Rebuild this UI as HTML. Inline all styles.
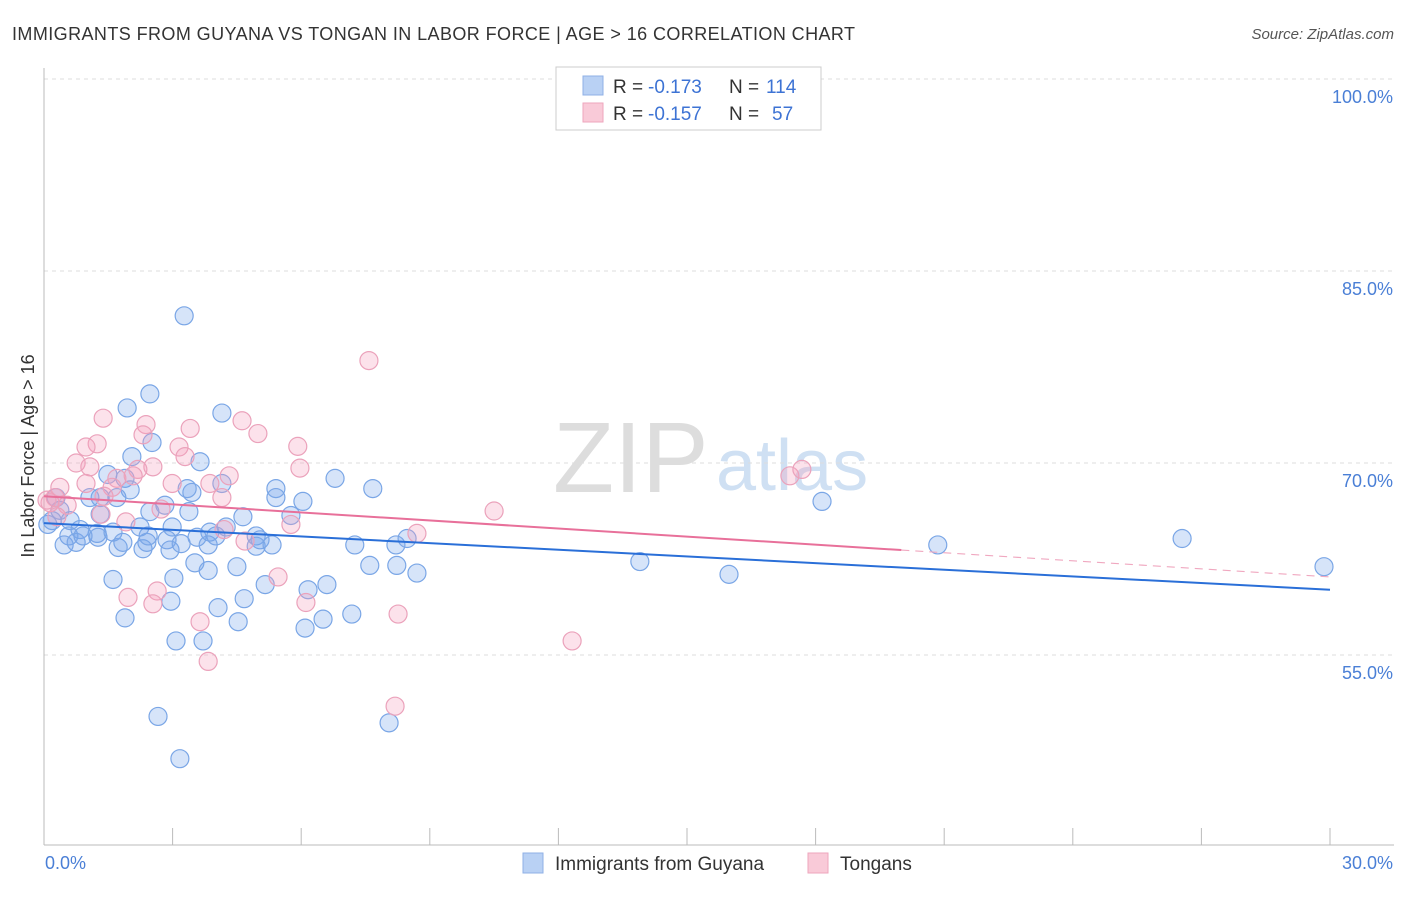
<!DOCTYPE html>
<html><head><meta charset="utf-8"><style>
body{margin:0;background:#fff;font-family:"Liberation Sans",sans-serif;}
svg text{font-family:"Liberation Sans",sans-serif;}
</style></head><body>
<svg id="chart" width="1406" height="892">
<text x="12" y="40" font-size="18" fill="#333" textLength="843" lengthAdjust="spacing">IMMIGRANTS FROM GUYANA VS TONGAN IN LABOR FORCE | AGE &gt; 16 CORRELATION CHART</text>
<text x="1394" y="39" font-size="15" fill="#555" font-style="italic" text-anchor="end">Source: ZipAtlas.com</text>
<g>
<text x="553" y="492" font-size="100" fill="#ddd" font-family="Liberation Serif, serif">ZIP</text>
<text x="716" y="490" font-size="72" fill="#cfe0f3">atlas</text>
</g>
<g id="grid"></g>
<g id="axes"></g>
<g id="marks"></g>
<text transform="translate(34,456) rotate(-90)" font-size="18" fill="#333" text-anchor="middle">In Labor Force | Age &gt; 16</text>
<text x="45" y="869" font-size="18" fill="#4a7fd6">0.0%</text>
<text x="1393" y="869" font-size="18" fill="#4a7fd6" text-anchor="end">30.0%</text>
<g>
<rect x="556" y="67" width="265" height="63" fill="#fff" stroke="#ccc"/>
<rect x="583" y="76" width="20" height="19" fill="#b9d1f4" stroke="#8fb0e6"/>
<rect x="583" y="103" width="20" height="19" fill="#f9cad8" stroke="#eea6bd"/>
<text x="613" y="93" font-size="19" fill="#333">R =</text>
<text x="648" y="93" font-size="19" fill="#3d73d4">-0.173</text>
<text x="729" y="93" font-size="19" fill="#333">N =</text>
<text x="766" y="93" font-size="19" fill="#3d73d4">114</text>
<text x="613" y="120" font-size="19" fill="#333">R =</text>
<text x="648" y="120" font-size="19" fill="#3d73d4">-0.157</text>
<text x="729" y="120" font-size="19" fill="#333">N =</text>
<text x="772" y="120" font-size="19" fill="#3d73d4">57</text>
</g>
<g>
<rect x="523" y="853" width="20" height="20" fill="#b9d1f4" stroke="#8fb0e6"/>
<text x="555" y="870" font-size="19" fill="#333">Immigrants from Guyana</text>
<rect x="808" y="853" width="20" height="20" fill="#f9cad8" stroke="#eea6bd"/>
<text x="840" y="870" font-size="19" fill="#333">Tongans</text>
</g>
</svg>
<script>
const yTicks=[100,85,70,55];
const yTickLabels=["100.0%","85.0%","70.0%","55.0%"];
const blueX=[3.27,2.47,1.94,4.15,2.52,2.05,3.64,6.79,7.67,1.49,1.89,2.01,3.45,3.34,4.15,5.41,5.41,6.04,5.76,4.64,2.47,3.38,2.82,1.70,1.31,1.07,1.31,0.28,0.37,0.19,0.09,0.61,0.84,1.24,1.26,0.58,0.47,0.75,0.91,1.61,1.73,1.84,2.24,2.31,2.40,2.43,2.99,2.87,2.94,3.20,3.57,3.87,3.83,4.01,4.25,4.95,5.04,4.95,5.32,7.25,8.21,8.47,3.52,3.83,4.50,3.03,1.61,5.16,6.16,6.60,7.60,8.23,8.70,13.90,15.98,20.85,26.55,29.86,18.15,2.96,4.06,4.67,1.89,4.53,6.09,6.51,7.18,3.08,3.71,2.66,8.05,3.17];
const blueY=[81.5,75.4,74.3,73.9,71.6,70.5,70.1,68.8,68.0,69.1,68.8,67.9,67.7,68.0,68.4,68.0,67.3,67.0,65.9,65.8,66.2,66.2,66.7,67.3,67.3,67.3,66.0,67.3,66.3,65.5,65.2,65.5,64.8,64.5,64.2,64.3,63.6,63.8,64.3,64.6,63.4,63.8,65.0,63.3,63.8,64.3,65.0,64.0,63.2,63.7,64.2,64.6,63.6,64.3,65.0,64.3,64.0,63.5,63.6,63.6,63.6,64.1,62.2,61.6,61.9,61.0,60.9,60.5,60.1,60.5,62.0,62.0,61.4,62.3,61.3,63.6,64.1,61.9,67.0,59.2,58.7,59.4,57.9,57.6,57.1,57.8,58.2,56.1,56.1,50.2,49.7,46.9];
const pinkX=[7.58,1.38,2.38,1.24,0.98,2.31,4.62,4.99,3.41,5.92,3.15,3.29,0.75,1.07,2.54,2.19,5.97,4.32,3.87,1.70,2.08,1.59,0.37,0.98,2.99,4.15,1.40,0.14,0.54,0.30,1.91,1.33,2.73,5.76,4.69,4.20,8.70,10.50,17.40,17.68,5.46,6.11,1.96,2.64,2.54,3.64,3.83,8.26,12.32,8.19,0.26,0.07];
const pinkY=[78.0,73.5,73.0,71.5,71.25,72.2,73.3,72.3,72.7,71.3,71.25,70.5,70.0,69.7,69.7,69.5,69.6,69.0,68.4,68.8,69.0,68.1,68.1,68.4,68.4,67.3,67.4,66.9,66.7,65.8,65.4,66.0,66.4,65.2,63.9,64.8,64.5,66.25,69.0,69.5,61.1,59.1,59.5,60.0,59.0,57.6,54.5,58.2,56.1,51.0,67.3,67.1];
const blueTrend=[65.3,60.1];
const pinkTrend=[67.4,61.1];
const pinkSolidEnd=20;
const X0=44,X1=1330,YTOP=79,PXPERPCT=12.8;
function sx(v){return X0+(X1-X0)*v/30;}
function sy(v){return YTOP+(100-v)*PXPERPCT;}
const NS="http://www.w3.org/2000/svg";
function mk(tag,attrs,parent){const e=document.createElementNS(NS,tag);for(const k in attrs)e.setAttribute(k,attrs[k]);parent.appendChild(e);return e;}
const grid=document.getElementById('grid'),axes=document.getElementById('axes'),marks=document.getElementById('marks');
yTicks.forEach((t,i)=>{
 const l=mk('line',{x1:44,x2:1394,y1:sy(t),y2:sy(t),stroke:'#ddd','stroke-dasharray':'4,4'},grid);
 
 
 const tx=mk('text',{x:1393,y:sy(t)+24,'font-size':18,fill:'#4a7fd6','text-anchor':'end'},grid);
 tx.textContent=yTickLabels[i];
 
 
});
let a=mk('line',{x1:44,x2:44,y1:68,y2:845,stroke:'#bbb'},axes);


a=mk('line',{x1:44,x2:1394,y1:845,y2:845,stroke:'#bbb'},axes);


for(let i=0;i<=10;i++){
 const t=mk('line',{x1:sx(i*3),x2:sx(i*3),y1:828,y2:845,stroke:'#bbb'},axes);
 
 
}
blueX.forEach((x,i)=>{
 const c=mk('circle',{cx:sx(x),cy:sy(blueY[i]),r:9,fill:'rgba(120,165,235,0.3)',stroke:'#7aa6e6','stroke-width':1.2},marks);
 
 
});
pinkX.forEach((x,i)=>{
 const c=mk('circle',{cx:sx(x),cy:sy(pinkY[i]),r:9,fill:'rgba(245,160,190,0.3)',stroke:'#eba2bb','stroke-width':1.2},marks);
 
 
});
let ln=mk('line',{x1:sx(0),y1:sy(blueTrend[0]),x2:sx(30),y2:sy(blueTrend[1]),stroke:'#2a6fd8','stroke-width':2},marks);


const pm=pinkTrend[0]+(pinkTrend[1]-pinkTrend[0])*pinkSolidEnd/30;
ln=mk('line',{x1:sx(0),y1:sy(pinkTrend[0]),x2:sx(pinkSolidEnd),y2:sy(pm),stroke:'#e8709a','stroke-width':2},marks);


ln=mk('line',{x1:sx(pinkSolidEnd),y1:sy(pm),x2:sx(30),y2:sy(pinkTrend[1]),stroke:'#f0a8c0','stroke-width':1.2,'stroke-dasharray':'8,6'},marks);


</script>
</body></html>
